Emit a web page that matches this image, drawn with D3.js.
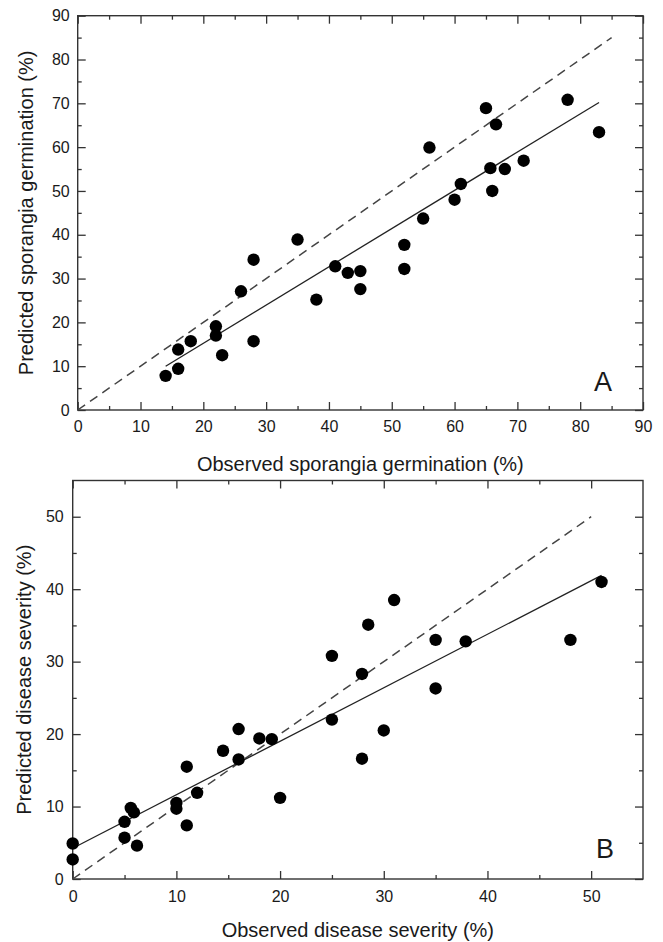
<!DOCTYPE html>
<html>
<head>
<meta charset="utf-8">
<script src="https://cdn.jsdelivr.net/npm/d3@7"></script>
<style>
    body { margin: 0; background: #fff; }
    svg text { font-family: "Liberation Sans", Arial, sans-serif; fill: #1a1a1a; }
</style>
</head>
<body>
<div id="chart"></div>
<script>
// panel A: sporangia germination (%)
const obsA  = [14, 16, 16, 18, 22, 22, 23, 26, 28, 28, 35, 38, 41, 43, 45, 45, 52, 52, 55, 56, 60, 61, 65, 65.7, 66, 66.6, 68, 71, 78, 83]
const predA = [7.8, 13.8, 9.4, 15.7, 19.1, 17.0, 12.5, 27.1, 34.3, 15.7, 38.9, 25.2, 32.8, 31.3, 31.7, 27.6, 37.7, 32.2, 43.7, 59.9, 48.0, 51.6, 68.9, 55.2, 50.0, 65.2, 55.0, 56.9, 70.8, 63.4]
const fitAx = [14, 83]
const fitAy = [10.0, 70.2]
const oneToOneA = [0, 85]
const ticksA = [0, 10, 20, 30, 40, 50, 60, 70, 80, 90]

// panel B: disease severity (%)
const obsB  = [0, 0, 5, 5, 5.6, 5.9, 6.2, 10, 10, 11, 11, 12, 14.5, 16, 16, 18, 19.2, 20, 25, 25, 27.9, 27.9, 28.5, 30, 31, 35, 35, 37.9, 48, 51]
const predB = [4.9, 2.7, 7.9, 5.7, 9.8, 9.2, 4.6, 10.5, 9.7, 15.5, 7.4, 11.9, 17.7, 20.7, 16.5, 19.4, 19.3, 11.2, 30.8, 22.0, 28.3, 16.6, 35.1, 20.5, 38.5, 33.0, 26.3, 32.8, 33.0, 41.0]
const fitBx = [0, 51]
const fitBy = [4.25, 41.9]
const oneToOneB = [0, 50]
const ticksB = [0, 10, 20, 30, 40, 50]

const W = 663, H = 942

const svg = d3.select("#chart")
    .append("svg")
    .attr("width", W)
    .attr("height", H)

function Panel(cfg) {
    const x = d3.scaleLinear().domain(cfg.xDomain).range([cfg.left, cfg.right])
    const y = d3.scaleLinear().domain(cfg.yDomain).range([cfg.bottom, cfg.top])
    const g = svg.append("g")

    const minorX = d3.range(5, cfg.xDomain[1], 10)
    const minorY = d3.range(5, cfg.yDomain[1], 10)

    // major + minor ticks, all pointing inward, on every side
    const axes = [
        [d3.axisBottom(x).tickValues(cfg.xTicks).tickSize(-8).tickPadding(cfg.xPad), `translate(0,${cfg.bottom})`, true],
        [d3.axisBottom(x).tickValues(minorX).tickSize(-4).tickFormat(""), `translate(0,${cfg.bottom})`],
        [d3.axisTop(x).tickValues(cfg.xTicks).tickSize(-8).tickFormat(""), `translate(0,${cfg.top})`],
        [d3.axisTop(x).tickValues(minorX).tickSize(-4).tickFormat(""), `translate(0,${cfg.top})`],
        [d3.axisLeft(y).tickValues(cfg.yTicks).tickSize(-8).tickPadding(cfg.yPad), `translate(${cfg.left},0)`, true],
        [d3.axisLeft(y).tickValues(minorY).tickSize(-4).tickFormat(""), `translate(${cfg.left},0)`],
        [d3.axisRight(y).tickValues(cfg.yTicks).tickSize(-8).tickFormat(""), `translate(${cfg.right},0)`],
        [d3.axisRight(y).tickValues(minorY).tickSize(-4).tickFormat(""), `translate(${cfg.right},0)`],
    ]
    axes.forEach(([axis, tr, labels]) => {
        const a = g.append("g").attr("transform", tr).call(axis)
        a.select(".domain").remove()
        a.selectAll(".tick line").attr("stroke", "#333").attr("stroke-width", 1.3)
        if (labels) {
            a.selectAll(".tick text")
                .attr("font-size", 16)
                .attr("font-family", "Liberation Sans, Arial, sans-serif")
                .attr("fill", "#1a1a1a")
        }
    })

    // frame
    g.append("rect")
        .attr("x", cfg.left)
        .attr("y", cfg.top)
        .attr("width", cfg.right - cfg.left)
        .attr("height", cfg.bottom - cfg.top)
        .attr("fill", "none")
        .attr("stroke", "#333")
        .attr("stroke-width", 1.4)

    // 1:1 line
    g.append("line")
        .attr("x1", x(cfg.oneToOne[0])).attr("y1", y(cfg.oneToOne[0]))
        .attr("x2", x(cfg.oneToOne[1])).attr("y2", y(cfg.oneToOne[1]))
        .attr("stroke", "#444")
        .attr("stroke-width", 1.5)
        .attr("stroke-dasharray", "9,6")

    // regression line
    g.append("line")
        .attr("x1", x(cfg.fitX[0])).attr("y1", y(cfg.fitY[0]))
        .attr("x2", x(cfg.fitX[1])).attr("y2", y(cfg.fitY[1]))
        .attr("stroke", "#222")
        .attr("stroke-width", 1.3)

    // points
    g.selectAll("circle.pt")
        .data(cfg.obs.map((d, i) => [d, cfg.pred[i]]))
        .enter()
        .append("circle")
        .attr("class", "pt")
        .attr("cx", d => x(d[0]))
        .attr("cy", d => y(d[1]))
        .attr("r", 6.2)
        .attr("fill", "#000")

    // axis titles
    g.append("text")
        .attr("x", (cfg.left + cfg.right) / 2)
        .attr("y", cfg.xTitleY)
        .attr("text-anchor", "middle")
        .attr("font-size", 20)
        .text(cfg.xTitle)

    g.append("text")
        .attr("transform", `translate(${cfg.yTitleX},${(cfg.top + cfg.bottom) / 2}) rotate(-90)`)
        .attr("text-anchor", "middle")
        .attr("font-size", 20)
        .text(cfg.yTitle)

    // panel letter
    g.append("text")
        .attr("x", cfg.letterX)
        .attr("y", cfg.letterY)
        .attr("text-anchor", "middle")
        .attr("font-size", 27)
        .text(cfg.letter)
}

Panel({
    xDomain: [0, 90], yDomain: [0, 90],
    left: 77.7, right: 643, top: 15.7, bottom: 410,
    xTicks: ticksA, yTicks: ticksA, xPad: 11, yPad: 8,
    obs: obsA, pred: predA, fitX: fitAx, fitY: fitAy, oneToOne: oneToOneA,
    xTitle: "Observed sporangia germination (%)", xTitleY: 471,
    yTitle: "Predicted sporangia germination (%)", yTitleX: 33,
    letter: "A", letterX: 603, letterY: 391
})

Panel({
    xDomain: [0, 55], yDomain: [0, 55],
    left: 72.7, right: 643, top: 480.5, bottom: 879,
    xTicks: ticksB, yTicks: ticksB, xPad: 12, yPad: 9,
    obs: obsB, pred: predB, fitX: fitBx, fitY: fitBy, oneToOne: oneToOneB,
    xTitle: "Observed disease severity (%)", xTitleY: 937,
    yTitle: "Predicted disease severity (%)", yTitleX: 31,
    letter: "B", letterX: 605, letterY: 858
})
</script>
</body>
</html>
